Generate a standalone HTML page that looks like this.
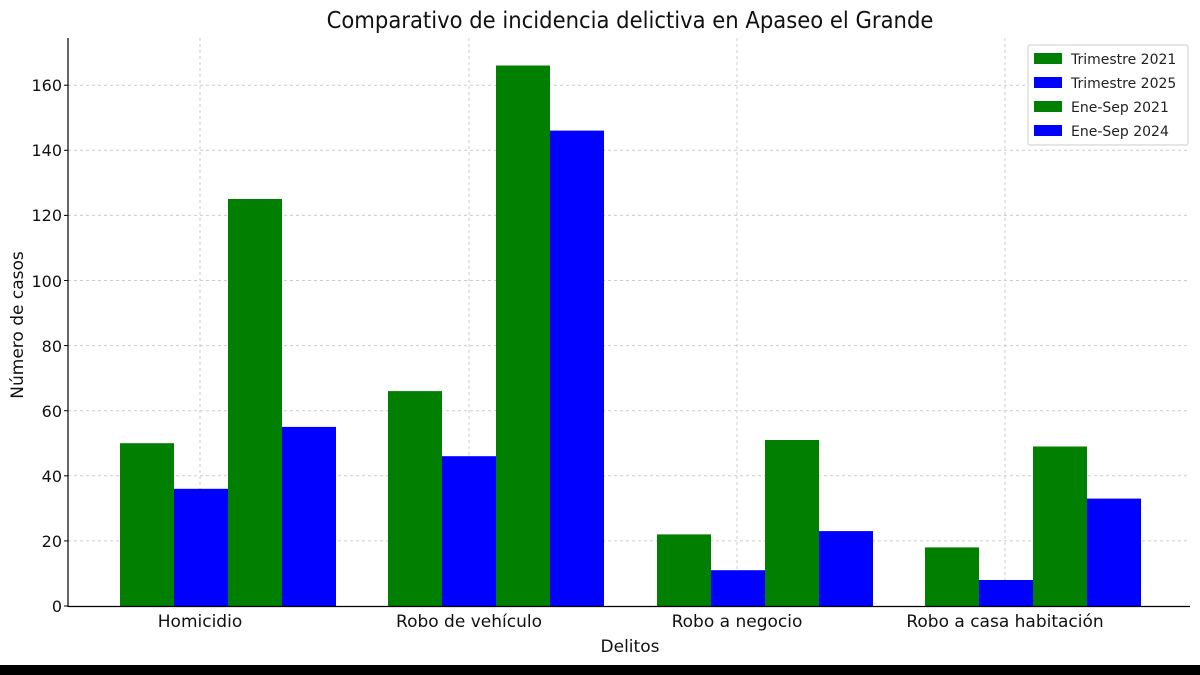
<!DOCTYPE html>
<html><head><meta charset="utf-8"><style>
html,body{margin:0;padding:0;background:#fff;}
svg{display:block;font-family:"DejaVu Sans","Liberation Sans",sans-serif;}
</style></head><body>
<svg width="1200" height="675" viewBox="0 0 1200 675" xmlns="http://www.w3.org/2000/svg">
<rect width="1200" height="675" fill="#fff"/>
<text x="630" y="28" font-size="23" text-anchor="middle" fill="#111" transform="translate(630,0) scale(0.92,1) translate(-630,0)">Comparativo de incidencia delictiva en Apaseo el Grande</text>
<g stroke="#ccc" stroke-width="1" stroke-dasharray="3,3">
<line x1="68" x2="1190" y1="540.9" y2="540.9"/><line x1="68" x2="1190" y1="475.8" y2="475.8"/>
<line x1="68" x2="1190" y1="410.7" y2="410.7"/><line x1="68" x2="1190" y1="345.6" y2="345.6"/>
<line x1="68" x2="1190" y1="280.5" y2="280.5"/><line x1="68" x2="1190" y1="215.4" y2="215.4"/>
<line x1="68" x2="1190" y1="150.3" y2="150.3"/><line x1="68" x2="1190" y1="85.2" y2="85.2"/>
<line x1="200" x2="200" y1="38" y2="606"/><line x1="469" x2="469" y1="38" y2="606"/>
<line x1="737" x2="737" y1="38" y2="606"/><line x1="1005" x2="1005" y1="38" y2="606"/>
</g>
<g>
<rect x="120" y="443.2" width="54" height="162.8" fill="#007f00"/>
<rect x="174" y="488.8" width="54" height="117.2" fill="#0000ff"/>
<rect x="228" y="199" width="54" height="407" fill="#007f00"/>
<rect x="282" y="426.9" width="54" height="179.1" fill="#0000ff"/>
<rect x="388" y="391.1" width="54" height="214.9" fill="#007f00"/>
<rect x="442" y="456.2" width="54" height="149.8" fill="#0000ff"/>
<rect x="496" y="65.5" width="54" height="540.5" fill="#007f00"/>
<rect x="550" y="130.6" width="54" height="475.4" fill="#0000ff"/>
<rect x="657" y="534.4" width="54" height="71.6" fill="#007f00"/>
<rect x="711" y="570.2" width="54" height="35.8" fill="#0000ff"/>
<rect x="765" y="440" width="54" height="166" fill="#007f00"/>
<rect x="819" y="531.1" width="54" height="74.9" fill="#0000ff"/>
<rect x="925" y="547.4" width="54" height="58.6" fill="#007f00"/>
<rect x="979" y="580" width="54" height="26" fill="#0000ff"/>
<rect x="1033" y="446.5" width="54" height="159.5" fill="#007f00"/>
<rect x="1087" y="498.6" width="54" height="107.4" fill="#0000ff"/>
</g>
<line x1="68" x2="68" y1="38" y2="607" stroke="#000" stroke-width="1.2"/>
<line x1="68" x2="1190" y1="606.5" y2="606.5" stroke="#000" stroke-width="1.2"/>
<g font-size="16" fill="#111" text-anchor="end">
<text x="62" y="612">0</text><text x="62" y="547">20</text><text x="62" y="482">40</text>
<text x="62" y="417">60</text><text x="62" y="352">80</text><text x="62" y="287">100</text>
<text x="62" y="221">120</text><text x="62" y="156">140</text><text x="62" y="91">160</text>
</g>
<g stroke="#000"><line x1="64" x2="68" y1="606" y2="606"/><line x1="64" x2="68" y1="540.9" y2="540.9"/><line x1="64" x2="68" y1="475.8" y2="475.8"/><line x1="64" x2="68" y1="410.7" y2="410.7"/><line x1="64" x2="68" y1="345.6" y2="345.6"/><line x1="64" x2="68" y1="280.5" y2="280.5"/><line x1="64" x2="68" y1="215.4" y2="215.4"/><line x1="64" x2="68" y1="150.3" y2="150.3"/><line x1="64" x2="68" y1="85.2" y2="85.2"/></g>
<g font-size="17" fill="#111" text-anchor="middle">
<text x="200" y="627">Homicidio</text>
<text x="469" y="627">Robo de vehículo</text>
<text x="737" y="627">Robo a negocio</text>
<text x="1005" y="627">Robo a casa habitación</text>
<text x="630" y="652">Delitos</text>
<text x="0" y="0" transform="translate(23,325) rotate(-90)">Número de casos</text>
</g>
<rect x="1028" y="45" width="160" height="100" fill="#fff" stroke="#ccc" rx="2"/>
<g font-size="14" fill="#222">
<rect x="1034" y="53" width="28" height="11" fill="#007f00"/><text x="1071" y="64">Trimestre 2021</text>
<rect x="1034" y="77" width="28" height="11" fill="#0000ff"/><text x="1071" y="88">Trimestre 2025</text>
<rect x="1034" y="101" width="28" height="11" fill="#007f00"/><text x="1071" y="112">Ene-Sep 2021</text>
<rect x="1034" y="125" width="28" height="11" fill="#0000ff"/><text x="1071" y="136">Ene-Sep 2024</text>
</g>
<rect x="0" y="665" width="1200" height="10" fill="#000"/>
</svg>
</body></html>
